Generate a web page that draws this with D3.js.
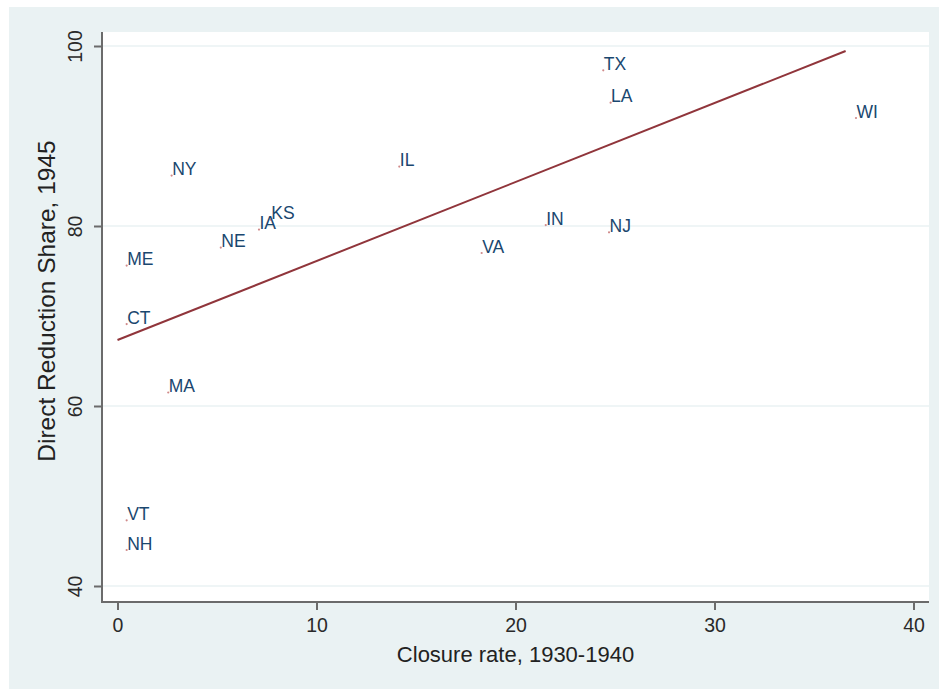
<!DOCTYPE html>
<html>
<head>
<meta charset="utf-8">
<script src="https://cdn.jsdelivr.net/npm/d3@7"></script>
<style>
  body { margin: 0; background: #fff; }
  svg { display: block; font-family: "Liberation Sans", Arial, sans-serif; }
</style>
</head>
<body>
<svg class="sc-chart"></svg>
<script>
// state labels and their positions (closure rate, direct reduction share)
let states = ['NY', 'NE', 'IA', 'KS', 'ME', 'CT', 'MA', 'VT', 'NH', 'IL', 'VA', 'IN', 'NJ', 'TX', 'LA', 'WI'];
let closureRate = [2.72, 5.19, 7.11, 7.70, 0.46, 0.46, 2.55, 0.46, 0.46, 14.16, 18.3, 21.52, 24.7, 24.41, 24.78, 37.11];
let reductionShare = [85.6, 77.6, 79.6, 80.7, 75.6, 69.1, 61.5, 47.3, 44.0, 86.6, 77.0, 80.1, 79.3, 97.3, 93.7, 92.0];

// fitted line end points
let fitX = [0, 36.59];
let fitY = [67.33, 99.44];

let xTicks = [0, 10, 20, 30, 40];
let yTicks = [40, 60, 80, 100];

let width = 939, height = 690;
let plot = {left: 102, right: 929, top: 32, bottom: 602};

let svg = d3.select('.sc-chart')
  .attr('width', width)
  .attr('height', height);

// outer background
svg.append('rect')
  .attr('x', 9).attr('y', 7)
  .attr('width', width - 9).attr('height', 682)
  .attr('fill', '#eaf2f3');

svg.append('rect')
  .attr('x', plot.left).attr('y', plot.top)
  .attr('width', plot.right - plot.left).attr('height', plot.bottom - plot.top)
  .attr('fill', '#fff');

let x = d3.scaleLinear().domain([0, 40]).range([117.5, 913.5]);
let y = d3.scaleLinear().domain([40, 100]).range([586, 46]);

// grid lines
svg.append('g')
  .selectAll('line')
  .data(yTicks)
  .enter().append('line')
  .attr('x1', plot.left).attr('x2', plot.right)
  .attr('y1', d => y(d)).attr('y2', d => y(d))
  .attr('stroke', '#eaf2f3')
  .attr('stroke-width', 1.6);

// x axis
let xAxis = svg.append('g')
  .attr('transform', 'translate(0,' + plot.bottom + ')')
  .call(d3.axisBottom(x).tickValues(xTicks).tickSize(8).tickPadding(8).tickFormat(d3.format('d')));
xAxis.select('.domain').remove();
xAxis.append('line')
  .attr('x1', plot.left - 1).attr('x2', plot.right)
  .attr('stroke', '#6b6b6b').attr('stroke-width', 2);
xAxis.selectAll('.tick line').attr('stroke', '#6b6b6b').attr('stroke-width', 2);
xAxis.selectAll('.tick text')
  .attr('fill', '#2a2a2a')
  .style('font-size', '19.5px');

// y axis
let yAxis = svg.append('g')
  .attr('transform', 'translate(' + plot.left + ',0)')
  .call(d3.axisLeft(y).tickValues(yTicks).tickSize(8).tickFormat(d3.format('d')));
yAxis.select('.domain').remove();
yAxis.append('line')
  .attr('y1', plot.top).attr('y2', plot.bottom + 1)
  .attr('stroke', '#6b6b6b').attr('stroke-width', 2);
yAxis.selectAll('.tick line').attr('stroke', '#6b6b6b').attr('stroke-width', 2);
yAxis.selectAll('.tick text')
  .attr('x', null).attr('dy', null)
  .attr('transform', 'translate(-20,0) rotate(-90)')
  .attr('text-anchor', 'middle')
  .attr('fill', '#2a2a2a')
  .style('font-size', '19.5px');

// axis titles
svg.append('text')
  .attr('x', (plot.left + plot.right) / 2)
  .attr('y', 662)
  .attr('text-anchor', 'middle')
  .attr('fill', '#222')
  .style('font-size', '22px')
  .text('Closure rate, 1930-1940');

svg.append('text')
  .attr('transform', 'translate(55,301) rotate(-90)')
  .attr('text-anchor', 'middle')
  .attr('fill', '#222')
  .style('font-size', '24.5px')
  .text('Direct Reduction Share, 1945');

// fitted line
let fitData = fitX.map((d, i) => ({x: d, y: fitY[i]}));
svg.append('path')
  .datum(fitData)
  .attr('d', d3.line().x(d => x(d.x)).y(d => y(d.y)))
  .attr('fill', 'none')
  .attr('stroke', '#90353b')
  .attr('stroke-width', 2);

// points with labels
let pts = states.map((s, i) => ({name: s, x: closureRate[i], y: reductionShare[i]}));
let g = svg.append('g');
g.selectAll('circle')
  .data(pts)
  .enter().append('circle')
  .attr('cx', d => x(d.x))
  .attr('cy', d => y(d.y))
  .attr('r', 1.1)
  .attr('fill', '#d08a8a');
g.selectAll('text')
  .data(pts)
  .enter().append('text')
  .attr('x', d => x(d.x) + 0.5)
  .attr('y', d => y(d.y) - 0.5)
  .attr('fill', '#1a476f')
  .style('font-size', '17.5px')
  .text(d => d.name);
</script>
</body>
</html>
